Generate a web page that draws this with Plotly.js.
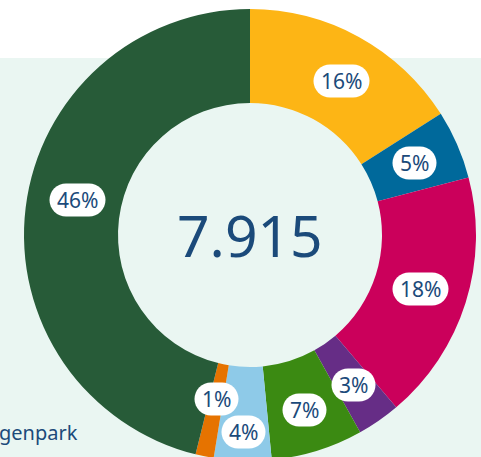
<!DOCTYPE html>
<html>
<head>
<meta charset="utf-8">
<script src="https://cdn.plot.ly/plotly-3.0.1.min.js"></script>
<style>
html,body{margin:0;padding:0;overflow:hidden;background:#fff;}
#chart{width:481px;height:470px;}
</style>
</head>
<body>
<div id="chart"></div>
<script>
// Data (counts summing to the total shown in the centre)
const categories = ['Kategorie A','Kategorie B','Kategorie C','Kategorie D','Kategorie E','Kategorie F','Kategorie G','Kategorie H'];
const counts = [1266, 388, 1417, 245, 520, 325, 103, 3651];
const sliceColors = ['#FDB515','#00699B','#CB005B','#662D86','#3B8A12','#8ECAE8','#E67300','#275B38'];
const centerLabel = '7.915';
const sideLabel = 'genpark';
// label nudges for crowded labels (radial px, angular degrees)
const labelNudge = [0, 0, 0, 3, 4, 18, -12, -3];
const labelTurn = [2, 0, 0, 0, 0, 0, 0, 4.5];

const W = 481, H = 470;
const cx = 250, cy = 235, R = 226, rIn = 132;
const total = counts.reduce((a,b)=>a+b,0);
const textColor = '#1B4A7A';
const font = '"Noto Sans", "Open Sans", sans-serif';

const annotations = [];
let acc = 0;
counts.forEach((v,i)=>{
  const mid = (acc + v/2)/total * 2*Math.PI + labelTurn[i]*Math.PI/180;
  acc += v;
  const r = (R + rIn)/2 + labelNudge[i];
  const px = cx + r*Math.sin(mid);
  const py = cy - r*Math.cos(mid);
  annotations.push({
    x: px/W, y: 1 - py/H, xref:'paper', yref:'paper', xanchor:'center', yanchor:'middle',
    text: Math.round(v/total*100) + '%',
    showarrow:false, bgcolor:'#ffffff', borderpad:1,
    font:{family:font, size:21, color:textColor}
  });
});
annotations.push({
  x: cx/W, y: 1 - cy/H, xref:'paper', yref:'paper', xanchor:'center', yanchor:'middle', text: centerLabel,
  showarrow:false, font:{family:font, size:57, color:textColor}
});
annotations.push({
  x: 0, y: 1 - 432/H, xref:'paper', yref:'paper', xanchor:'left', yanchor:'middle', xshift:-3, text: sideLabel,
  showarrow:false, font:{family:font, size:20, color:textColor}
});

const data = [{
  type:'pie', values: counts, labels: categories, sort:false, direction:'clockwise',
  rotation:0, hole: rIn/R, textinfo:'none', hoverinfo:'label+value+percent',
  marker:{colors: sliceColors, line:{width:0}},
  domain:{x:[(cx-R)/W,(cx+R)/W], y:[1-(cy+R)/H, 1-(cy-R)/H]},
  showlegend:false
}];

const layout = {
  width: W, height: H, margin:{l:0,r:0,t:0,b:0},
  paper_bgcolor:'#ffffff', plot_bgcolor:'#ffffff', showlegend:false,
  shapes:[{type:'rect', xref:'paper', yref:'paper', x0:0, x1:1, y0:0, y1:1-58/H,
    fillcolor:'#EAF6F2', line:{width:0}, layer:'below'}],
  annotations: annotations
};

Plotly.newPlot('chart', data, layout, {staticPlot:true}).then(()=>{
  document.querySelectorAll('.annotation rect.bg').forEach(r=>{
    const fill = r.style.fill || r.getAttribute('style') || '';
    if (!/255, 255, 255|#ffffff|white/i.test(fill)) return;
    const x = parseFloat(r.getAttribute('x')), w = parseFloat(r.getAttribute('width'));
    const y = parseFloat(r.getAttribute('y')), h = parseFloat(r.getAttribute('height'));
    r.setAttribute('x', x - 6); r.setAttribute('width', w + 12);
    r.setAttribute('y', y - 1); r.setAttribute('height', h + 2);
    r.setAttribute('rx', (h + 2)/2); r.setAttribute('ry', (h + 2)/2);
  });
});
</script>
</body>
</html>
